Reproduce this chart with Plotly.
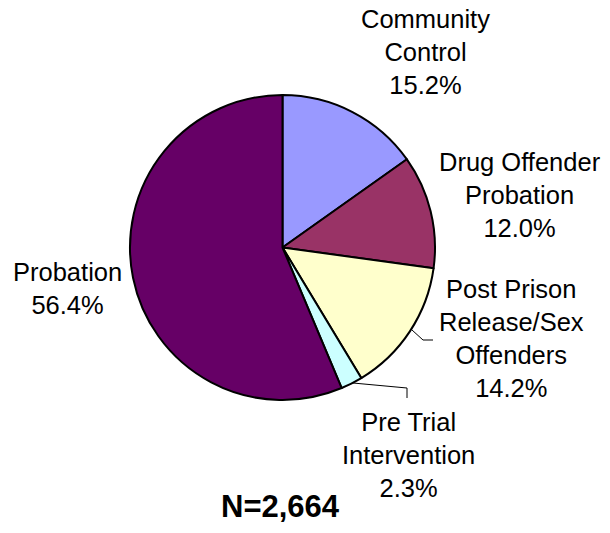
import plotly.graph_objects as go

categories = ["Community Control", "Drug Offender Probation", "Post Prison Release/Sex Offenders",
              "Pre Trial Intervention", "Probation"]
label_lines = ["Community<br>Control", "Drug Offender<br>Probation", "Post Prison<br>Release/Sex<br>Offenders",
               "Pre Trial<br>Intervention", "Probation"]
percentages = [15.2, 12.0, 14.2, 2.3, 56.4]
colors = ["#9999FF", "#993366", "#FFFFCC", "#CCFFFF", "#660066"]
total_label = "N=2,664"

# the page body adds an 8px margin, so the figure is drawn 8px in from the window edge
OFF = 8
W, H = 610 - 2 * OFF, 533 - 2 * OFF


def px(x):
    return (x - OFF) / W


def py(y):
    return 1 - (y - OFF) / H


# label centres in window pixels (layout only)
label_pos = [(425, 52), (520, 195), (511, 338), (408, 455), (67, 288)]

fig = go.Figure(go.Pie(
    labels=categories,
    values=percentages,
    marker=dict(colors=colors, line=dict(color="black", width=2)),
    sort=False,
    direction="clockwise",
    rotation=0,
    textinfo="none",
    hoverinfo="label+percent",
    domain=dict(x=[px(130), px(435)], y=[py(400), py(95)]),
    showlegend=False,
))

font = dict(family="Liberation Sans, Arial, sans-serif", size=25.5, color="black")
annotations = []
for txt, val, (x, y) in zip(label_lines, percentages, label_pos):
    annotations.append(dict(
        text=f"{txt}<br>{val:.1f}%", x=px(x), y=py(y), xref="paper", yref="paper",
        xanchor="center", yanchor="middle", showarrow=False, align="center", font=font))
annotations.append(dict(
    text=f"<b>{total_label}</b>", x=px(280), y=py(506), xref="paper", yref="paper",
    xanchor="center", yanchor="middle", showarrow=False,
    font=dict(family="Liberation Sans, Arial, sans-serif", size=31, color="black")))


def path(points):
    return "M " + " L ".join(f"{px(x)},{py(y)}" for x, y in points)


shapes = [
    dict(type="path", xref="paper", yref="paper", path=path([(412, 330), (423, 340), (433, 340)]),
         line=dict(color="black", width=1)),
    dict(type="path", xref="paper", yref="paper", path=path([(353, 383), (407, 388), (407, 398)]),
         line=dict(color="black", width=1)),
]

fig.update_layout(
    width=W, height=H,
    margin=dict(l=0, r=0, t=0, b=0),
    paper_bgcolor="white", plot_bgcolor="white",
    annotations=annotations, shapes=shapes,
)

fig.write_html("out.html")
